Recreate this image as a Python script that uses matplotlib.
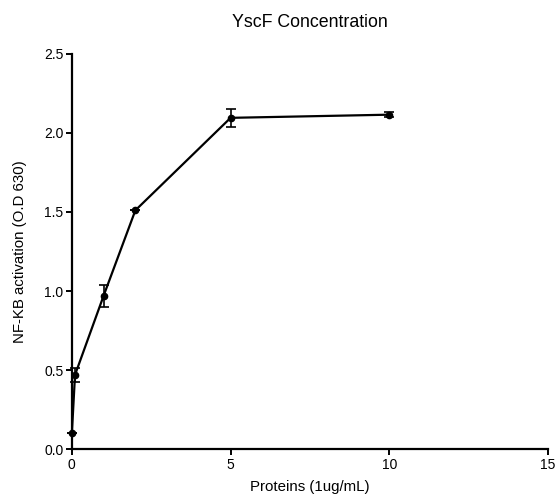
import matplotlib
matplotlib.use("Agg")
import matplotlib.pyplot as plt

plt.rcParams['font.family'] = ['Liberation Sans', 'DejaVu Sans']

concentration = [0, 0.1, 1, 2, 5, 10]
activation = [0.10, 0.47, 0.97, 1.51, 2.095, 2.115]
errors = [0.0, 0.045, 0.07, 0.0, 0.055, 0.015]
x_ticks = [0, 5, 10, 15]
y_ticks = [0.0, 0.5, 1.0, 1.5, 2.0, 2.5]

fig = plt.figure(figsize=(5.57, 4.98), dpi=100)
ax = fig.add_axes([0.129, 0.098, 0.855, 0.794])
ax.errorbar(concentration, activation, yerr=errors, color='black', lw=1.6,
            marker='o', markersize=4.5, capsize=3.5, elinewidth=1.2, capthick=1.2)
ax.set_xlim(0, 15)
ax.set_ylim(0, 2.5)
ax.set_xticks(x_ticks)
ax.set_yticks(y_ticks)
ax.set_yticklabels([f"{v:.1f}" for v in y_ticks])
for s in ['top', 'right']:
    ax.spines[s].set_visible(False)
for s in ['left', 'bottom']:
    ax.spines[s].set_linewidth(1.6)
ax.tick_params(direction='out', length=4, width=1.4, labelsize=10, pad=2)
ax.set_title("YscF Concentration", fontsize=12.8, pad=19)
ax.set_xlabel("Proteins (1ug/mL)", fontsize=10.8, labelpad=6)
ax.set_ylabel("NF-KB activation (O.D 630)", fontsize=10.8, labelpad=12)
for art in ax.get_children():
    try:
        art.set_clip_on(False)
    except Exception:
        pass
fig.savefig("out.png", dpi=100)
